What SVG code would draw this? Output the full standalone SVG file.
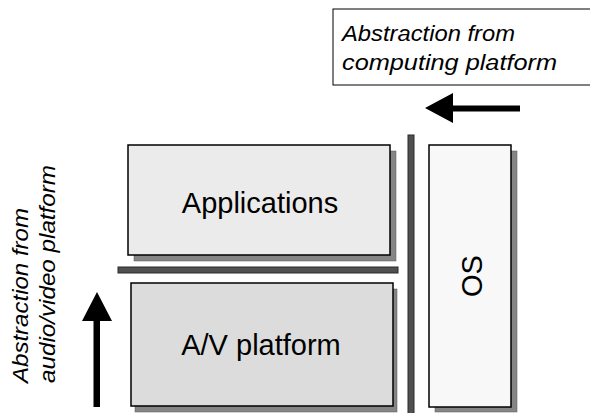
<svg xmlns="http://www.w3.org/2000/svg" width="590" height="413" viewBox="0 0 590 413">
<style>
.box{stroke:#000;stroke-width:1.5}
.shadow{fill:#858585;stroke:#555;stroke-width:0.5}
.bar{fill:#505050;stroke:#2a2a2a;stroke-width:1}
.lbl{font-family:"Liberation Sans",Arial,sans-serif;font-size:29px;fill:#000;text-anchor:middle}
.note{font-family:"Liberation Sans",Arial,sans-serif;font-size:22px;font-style:italic;fill:#000}
.arrow{fill:#000;stroke:none}
</style>
<rect width="590" height="413" fill="#fff"/>
<g id="note-computing">
<rect x="333" y="9" width="262" height="76" fill="#fff" stroke="#000" stroke-width="1"/>
<text class="note" x="342" y="41" textLength="173" lengthAdjust="spacingAndGlyphs">Abstraction from</text>
<text class="note" x="342" y="70" textLength="215" lengthAdjust="spacingAndGlyphs">computing platform</text>
</g>
<g id="note-av">
<text class="note" transform="translate(28,383) rotate(-90)" textLength="175" lengthAdjust="spacingAndGlyphs">Abstraction from</text>
<text class="note" transform="translate(55,383) rotate(-90)" textLength="218" lengthAdjust="spacingAndGlyphs">audio/video platform</text>
</g>
<g id="applications">
<rect class="shadow" x="134" y="151" width="262" height="110"/>
<rect class="box" x="128" y="145" width="262" height="110" fill="#ebebeb"/>
<text class="lbl" x="260" y="213">Applications</text>
</g>
<g id="av-platform">
<rect class="shadow" x="135" y="289" width="262" height="123"/>
<rect class="box" x="131" y="283" width="262" height="123" fill="#dcdcdc"/>
<text class="lbl" x="261" y="355">A/V platform</text>
</g>
<g id="os">
<rect class="shadow" x="435" y="151" width="82" height="261"/>
<rect class="box" x="429" y="145" width="82" height="262" fill="#f8f8f8"/>
<text class="lbl" transform="translate(482,276) rotate(-90)">OS</text>
</g>
<g id="separator-h">
<rect class="bar" x="118" y="267" width="280" height="6"/>
</g>
<g id="separator-v">
<rect class="bar" x="408" y="135" width="6" height="285"/>
</g>
<g id="connectors">
<path class="arrow" d="M425,108 L453,93 L453,105.5 L520,105.5 L520,111.5 L453,111.5 L453,123 Z"/>
<path class="arrow" d="M97,292 L112,321 L100,321 L100,407 L93.5,407 L93.5,321 L82,321 Z"/>
</g>
</svg>
